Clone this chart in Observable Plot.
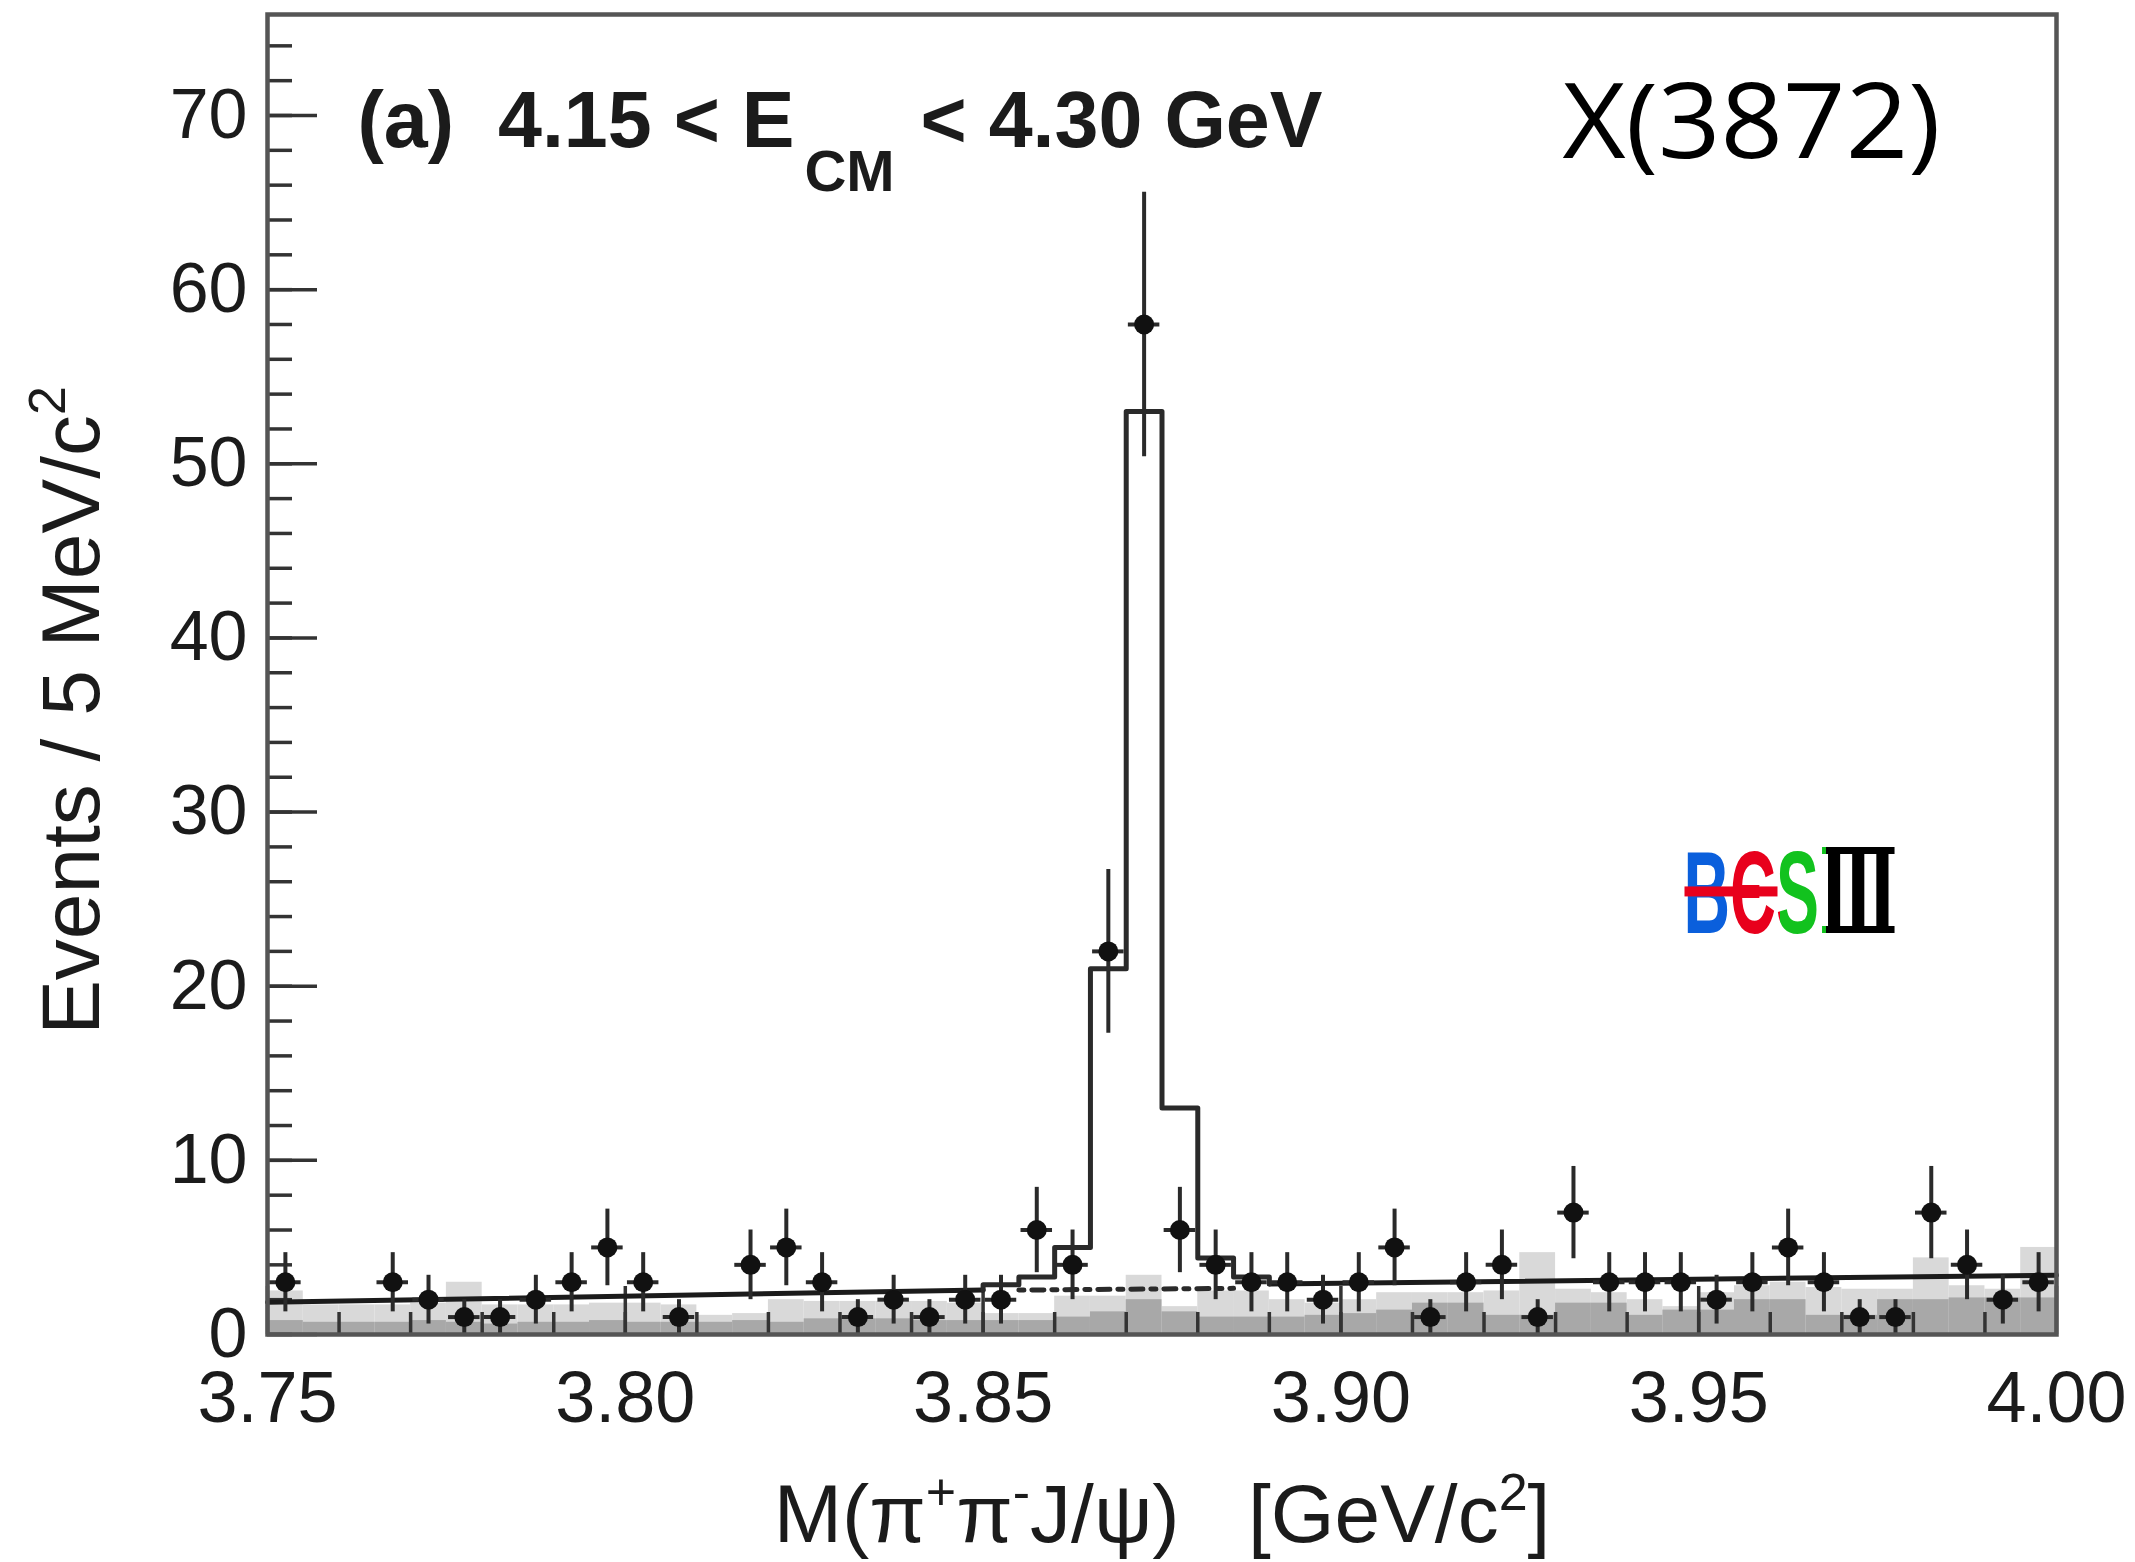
<!DOCTYPE html>
<html><head><meta charset="utf-8">
<script src="https://cdn.jsdelivr.net/npm/d3@7"></script>
<script src="https://cdn.jsdelivr.net/npm/@observablehq/plot@0.6"></script>
<style>
html,body{margin:0;padding:0;background:#fff;}
#chart svg{display:block;}
</style>
</head><body><div id="chart"></div>
<script>
// ---------------- data ----------------
const binWidth = 0.005;
const binCenters = [3.7525,3.7575,3.7625,3.7675,3.7725,3.7775,3.7825,3.7875,3.7925,3.7975,
  3.8025,3.8075,3.8125,3.8175,3.8225,3.8275,3.8325,3.8375,3.8425,3.8475,
  3.8525,3.8575,3.8625,3.8675,3.8725,3.8775,3.8825,3.8875,3.8925,3.8975,
  3.9025,3.9075,3.9125,3.9175,3.9225,3.9275,3.9325,3.9375,3.9425,3.9475,
  3.9525,3.9575,3.9625,3.9675,3.9725,3.9775,3.9825,3.9875,3.9925,3.9975];
const counts = [3,0,0,3,2,1,1,2,3,5, 3,1,0,4,5,3,1,2,1,2, 2,6,4,22,58,6,4,3,3,2,
  3,5,1,3,4,1,7,3,3,3, 2,3,5,3,1,1,7,4,2,3];
const errors = [1.7,0,0,1.7,1.4,1.0,1.0,1.4,1.7,2.2, 1.7,1.0,0,2.0,2.2,1.7,1.0,1.4,1.0,1.4,
  1.4,2.45,2.0,4.7,7.6,2.45,2.0,1.7,1.7,1.4, 1.7,2.2,1.0,1.7,2.0,1.0,2.65,1.7,1.7,1.7,
  1.4,1.7,2.2,1.7,1.0,1.0,2.65,2.0,1.4,1.7];
// grey background histograms (light = upper, dark = lower)
const lightGrey = [2.5,1.7,1.7,1.7,1.8,3.0,1.7,1.7,1.7,1.8, 1.8,1.7,1.1,1.2,2.0,1.9,1.9,1.9,1.9,1.8,
  1.2,1.2,2.2,2.2,3.4,1.6,2.5,2.5,2.0,1.8, 2.0,2.4,2.4,2.4,2.5,4.7,2.6,2.4,2.0,1.6,
  2.4,2.8,3.0,2.7,2.6,2.6,4.4,2.8,2.6,5.0];
const darkGrey = [0.8,0.7,0.7,0.7,0.8,0.7,0.6,0.7,0.7,0.8, 0.7,0.7,0.7,0.8,0.7,0.9,0.9,0.9,0.8,0.8,
  0.8,0.8,1.0,1.3,2.0,1.3,1.0,1.0,1.0,1.1, 1.2,1.4,1.8,1.8,1.1,1.1,1.8,1.8,1.1,1.4,
  1.4,2.0,2.0,1.1,1.1,2.0,2.0,2.1,2.1,2.1];
// total fit: smooth background parts and the signal-region histogram
const fitLeftX = [3.75, 3.85], fitLeftY = [1.85, 2.55];
const fitRightX = [3.89, 4.00], fitRightY = [2.9, 3.4];
const fitStepX = [3.850,3.850,3.855,3.860,3.865,3.870,3.875,3.880,3.885,3.890,3.890];
const fitStepY = [2.55, 2.85, 3.3, 5.0, 21, 53, 13, 4.4, 3.3, 3.3, 2.9];
// background under the peak (dash-dotted)
const bgUnderX = [3.855, 3.885], bgUnderY = [2.55, 2.65];

const xTickLabels = [3.75, 3.80, 3.85, 3.90, 3.95, 4.00];
const yTickLabels = [0, 10, 20, 30, 40, 50, 60, 70];

const titleText = "(a)  4.15 < ECM < 4.30 GeV";
const stateText = "X(3872)";
const logoText = "BЄSⅢ";
const logoColors = ["#0a5fdc", "#e8001c", "#12c21e", "#000000"];
const logoSplits = [0, 0.215, 0.45, 0.668, 1];   // letter boundaries across the logo width
const yLabelText = "Events / 5 MeV/c2";
const xLabelText = "M(π+π-J/ψ)   [GeV/c2]";

// ---------------- chart ----------------
const W = 2135, H = 1562;
const mL = 267, mR = 79, mT = 14, mB = 228;
const plotW = W - mL - mR, plotH = H - mT - mB;

const bins = binCenters.map((c, i) => ({
  c, lo: c - binWidth / 2, hi: c + binWidth / 2,
  n: counts[i], e: errors[i], light: lightGrey[i], dark: darkGrey[i]
}));
const pts = bins.filter(d => d.n > 0);
const pairs = (xs, ys) => xs.map((x, i) => ({x, y: ys[i]}));

const xMinor = d3.range(1, 25).map(i => +(3.75 + i * 0.01).toFixed(2));
const yMinor = d3.range(0, 38).map(i => i * 2);

const ink = "#1b1b1b";
const chart = Plot.plot({
  width: W, height: H,
  marginLeft: mL, marginRight: mR, marginTop: mT, marginBottom: mB,
  style: {fontFamily: "'Liberation Sans', Arial, sans-serif", background: "#fff", color: ink},
  x: {domain: [3.75, 4.00]},
  y: {domain: [0, 75.8]},
  marks: [
    Plot.rectY(bins, {x1: "lo", x2: "hi", y1: 0, y2: "light", fill: "#d9d9d9"}),
    Plot.rectY(bins, {x1: "lo", x2: "hi", y1: 0, y2: "dark", fill: "#a8a8a8"}),
    Plot.tickX(xMinor, {x: d => d, insetTop: plotH - 22, stroke: "#333", strokeWidth: 3.5}),
    Plot.tickX(xTickLabels, {x: d => d, insetTop: plotH - 48, stroke: "#333", strokeWidth: 3.5}),
    Plot.tickY(yMinor, {y: d => d, insetRight: plotW - 25, stroke: "#333", strokeWidth: 3.5}),
    Plot.tickY(yTickLabels, {y: d => d, insetRight: plotW - 50, stroke: "#333", strokeWidth: 3.5}),
    Plot.axisX({ticks: xTickLabels, tickSize: 0, tickPadding: 36, tickFormat: d => d.toFixed(2),
      fontSize: 72, label: null}),
    Plot.axisY({ticks: yTickLabels, tickSize: 0, tickPadding: 20, fontSize: 70, label: null}),
    // fit
    Plot.line(pairs(fitLeftX, fitLeftY), {x: "x", y: "y", stroke: ink, strokeWidth: 5}),
    Plot.line(pairs(fitRightX, fitRightY), {x: "x", y: "y", stroke: ink, strokeWidth: 5}),
    Plot.line(pairs(fitStepX, fitStepY), {x: "x", y: "y", curve: "step-after", stroke: "#2a2a2a", strokeWidth: 5}),
    Plot.line(pairs(bgUnderX, bgUnderY), {x: "x", y: "y", stroke: "#2a2a2a", strokeWidth: 5, strokeDasharray: "5 8 12 8"}),
    // data points
    Plot.ruleX(pts, {x: "c", y1: d => d.n - d.e, y2: d => d.n + d.e, stroke: "#2a2a2a", strokeWidth: 4}),
    Plot.ruleY(pts, {y: "n", x1: d => d.lo + 0.0003, x2: d => d.hi - 0.0003, stroke: "#2a2a2a", strokeWidth: 4}),
    Plot.dot(pts, {x: "c", y: "n", r: 10, fill: "#111"}),
    Plot.frame({stroke: "#555", strokeWidth: 4.5}),
    // texts
    Plot.text([titleText], {frameAnchor: "top-left", dx: 90, dy: 107, textAnchor: "start", lineAnchor: "middle",
      fontSize: 79, fontWeight: "bold"}),
    Plot.text([stateText], {frameAnchor: "top-left", dx: 1295, dy: 110, textAnchor: "start", lineAnchor: "middle",
      fontSize: 104, fontFamily: "'Open Sans', sans-serif", fill: "#000"}),
    Plot.text([logoText], {frameAnchor: "top-left", dx: 1416, dy: 881, textAnchor: "start", lineAnchor: "middle",
      fontSize: 117, fontWeight: "bold", fontFamily: "'Liberation Sans', 'DejaVu Serif', serif"}),
    Plot.text([yLabelText], {frameAnchor: "left", dx: -195, dy: 36, rotate: -90, textAnchor: "middle",
      lineAnchor: "middle", fontSize: 82}),
    Plot.text([xLabelText], {frameAnchor: "bottom", dy: 181, textAnchor: "middle", lineAnchor: "middle",
      fontSize: 82})
  ]
});
document.getElementById("chart").appendChild(chart);

// ---------- rich text (sub/superscripts, fitted widths) ----------
const NS = "http://www.w3.org/2000/svg";
function findText(str) {
  return Array.from(chart.querySelectorAll("text")).find(t => t.textContent === str);
}
function rich(str, parts) {
  const t = findText(str);
  if (!t) return null;
  t.textContent = "";
  t.style.whiteSpace = "pre";
  for (const p of parts) {
    const ts = document.createElementNS(NS, "tspan");
    ts.textContent = p.t;
    for (const k of ["font-size", "dx", "dy", "fill", "font-family", "font-weight"]) if (p[k] != null) ts.setAttribute(k, p[k]);
    t.appendChild(ts);
  }
  return t;
}
rich(titleText, [
  {t: titleText.slice(0, 13)},
  {t: titleText.slice(13, 15), "font-size": 58, dx: 10, dy: 44},
  {t: titleText.slice(15), dx: 4, dy: -44}
]);
rich(yLabelText, [
  {t: yLabelText.slice(0, -1)},
  {t: yLabelText.slice(-1), "font-size": 52, dy: -34}
]);
rich(xLabelText, [
  {t: "M(π"}, {t: "+", "font-size": 52, dy: -32}, {t: "π", dy: 32},
  {t: "-", "font-size": 52, dy: -32}, {t: "J/ψ)   [GeV/c", dy: 32},
  {t: "2", "font-size": 52, dy: -32}, {t: "]", dy: 32}
]);
const st = findText(stateText);
if (st) { st.setAttribute("textLength", 378); st.setAttribute("lengthAdjust", "spacingAndGlyphs"); }

// BESIII logo: one text, coloured letter by letter with a hard-stop gradient
const defs = document.createElementNS(NS, "defs");
const grad = document.createElementNS(NS, "linearGradient");
grad.setAttribute("id", "besGrad");
grad.setAttribute("x1", "0"); grad.setAttribute("x2", "1"); grad.setAttribute("y1", "0"); grad.setAttribute("y2", "0");
logoColors.forEach((c, i) => {
  for (const off of [logoSplits[i], logoSplits[i + 1]]) {
    const s = document.createElementNS(NS, "stop");
    s.setAttribute("offset", off); s.setAttribute("stop-color", c);
    grad.appendChild(s);
  }
});
defs.appendChild(grad);
chart.insertBefore(defs, chart.firstChild);
const lg = findText(logoText);
if (lg) {
  lg.setAttribute("textLength", 214);
  lg.setAttribute("lengthAdjust", "spacingAndGlyphs");
  lg.setAttribute("fill", "url(#besGrad)");
  const bb = lg.getBBox();
  const bar = document.createElementNS(NS, "rect");
  bar.setAttribute("x", bb.x + 1); bar.setAttribute("width", 93);
  bar.setAttribute("y", bb.y + bb.height * 0.5 - 6); bar.setAttribute("height", 10);
  bar.setAttribute("fill", "#e8001c");
  bar.setAttribute("transform", lg.getAttribute("transform") || "");
  lg.parentNode.appendChild(bar);
}
</script>
</body></html>
